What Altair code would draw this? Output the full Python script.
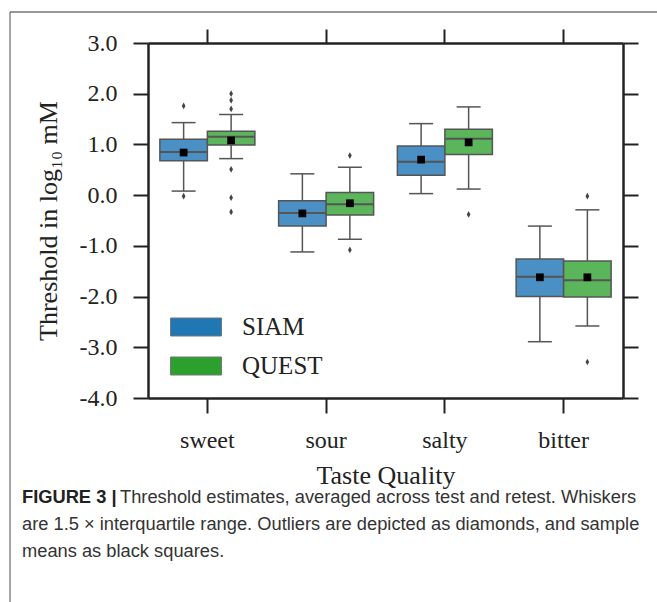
import altair as alt
import pandas as pd

tastes = ["sweet", "sour", "salty", "bitter"]
methods = ["SIAM", "QUEST"]

# box summaries (log10 mM)
siam_lo = [0.08, -1.12, 0.03, -2.89]
siam_q1 = [0.68, -0.61, 0.39, -2.00]
siam_med = [0.85, -0.35, 0.66, -1.61]
siam_q3 = [1.10, -0.11, 0.97, -1.26]
siam_hi = [1.43, 0.42, 1.41, -0.61]
siam_mean = [0.84, -0.36, 0.70, -1.62]

quest_lo = [0.72, -0.87, 0.12, -2.58]
quest_q1 = [0.99, -0.39, 0.80, -2.01]
quest_med = [1.15, -0.18, 1.11, -1.68]
quest_q3 = [1.26, 0.05, 1.30, -1.30]
quest_hi = [1.59, 0.55, 1.74, -0.29]
quest_mean = [1.08, -0.16, 1.04, -1.62]

out_method = ["SIAM", "SIAM", "QUEST", "QUEST", "QUEST", "QUEST", "QUEST", "QUEST",
              "QUEST", "QUEST", "QUEST", "QUEST", "QUEST"]
out_taste = ["sweet", "sweet", "sweet", "sweet", "sweet", "sweet", "sweet", "sweet",
             "sour", "sour", "salty", "bitter", "bitter"]
out_value = [1.76, -0.02, 2.00, 1.87, 1.70, 0.51, -0.05, -0.33,
             0.78, -1.08, -0.38, -0.02, -3.29]

y_ticks = [-4, -3, -2, -1, 0, 1, 2, 3]
box_colors = {"SIAM": "#4a90c5", "QUEST": "#5bb55b"}
legend_colors = {"SIAM": "#1f77b4", "QUEST": "#2ca02c"}

caption_bold = "FIGURE 3 |"
caption_lines = [
    "Threshold estimates, averaged across test and retest. Whiskers",
    "are 1.5 \u00d7 interquartile range. Outliers are depicted as diamonds, and sample",
    "means as black squares.",
]

rows = []
for i, t in enumerate(tastes):
    rows.append(dict(taste=t, method="SIAM", lo=siam_lo[i], q1=siam_q1[i], med=siam_med[i],
                     q3=siam_q3[i], hi=siam_hi[i], mean=siam_mean[i]))
    rows.append(dict(taste=t, method="QUEST", lo=quest_lo[i], q1=quest_q1[i], med=quest_med[i],
                     q3=quest_q3[i], hi=quest_hi[i], mean=quest_mean[i]))
summary = pd.DataFrame(rows)
outliers = pd.DataFrame(dict(taste=out_taste, method=out_method, value=out_value))

SERIF = "Liberation Serif"
SANS = "Liberation Sans, Arial"
DARK = "#222222"
GRAY = "#555555"

xscale = alt.Scale(type="band", domain=tastes, paddingInner=0, paddingOuter=0)
oscale = alt.Scale(domain=methods, paddingInner=0, paddingOuter=0.25)
yscale = alt.Scale(domain=[-4, 3], nice=False, zero=False)
label_expr = "(datum.value < 0 ? '-' : '') + format(abs(datum.value), '.1f')"

x_main = alt.X("taste:N", sort=tastes, scale=xscale,
               axis=alt.Axis(orient="bottom", labelAngle=0, tickSize=15, labelPadding=15,
                             title="Taste Quality", titlePadding=10, titleFontSize=26))
x_none = alt.X("taste:N", sort=tastes, scale=xscale, axis=None)
x_top = alt.X("taste:N", sort=tastes, scale=xscale,
              axis=alt.Axis(orient="top", labels=False, tickSize=14, title=None))
xo = alt.XOffset("method:N", sort=methods, scale=oscale)


def ynone(field):
    return alt.Y(field, scale=yscale, axis=None)


base_s = alt.Chart(summary)

whisk = base_s.mark_rule(color=GRAY, strokeWidth=1.5).encode(
    x=x_main, xOffset=xo,
    y=alt.Y("lo:Q", scale=yscale,
            axis=alt.Axis(orient="left", values=y_ticks, labelExpr=label_expr, tickSize=15,
                          labelPadding=16, title="Threshold in log\u2081\u2080 mM",
                          titlePadding=18, titleFontSize=26)),
    y2="hi:Q",
)

# fill domain listed in reverse order so Vega-Lite keeps it apart from the colour legend
fill_domain = methods[::-1]
boxes = base_s.mark_bar(stroke=GRAY, strokeWidth=1.5).encode(
    x=x_none, xOffset=xo, y=ynone("q1:Q"), y2="q3:Q",
    fill=alt.Fill("method:N",
                  scale=alt.Scale(domain=fill_domain, range=[box_colors[m] for m in fill_domain]),
                  legend=None),
)

median = base_s.mark_tick(color=GRAY, thickness=2, size=47, opacity=1).encode(
    x=x_none, xOffset=xo, y=ynone("med:Q"))
cap_lo = base_s.mark_tick(color=GRAY, thickness=1.5, size=24, opacity=1).encode(
    x=x_none, xOffset=xo, y=ynone("lo:Q"))
cap_hi = base_s.mark_tick(color=GRAY, thickness=1.5, size=24, opacity=1).encode(
    x=x_none, xOffset=xo, y=ynone("hi:Q"))

outl = alt.Chart(outliers).mark_point(
    shape="M0,-1L0.55,0L0,1L-0.55,0Z", filled=True, size=45, color="#444444", opacity=1
).encode(x=x_none, xOffset=xo, y=ynone("value:Q"))

# legend carrier: small squares hidden beneath the black mean squares
legend_layer = base_s.mark_square(size=30, opacity=1).encode(
    x=x_none, xOffset=xo, y=ynone("mean:Q"),
    color=alt.Color("method:N", sort=methods,
                    scale=alt.Scale(domain=methods, range=[legend_colors[m] for m in methods]),
                    legend=alt.Legend(title=None, orient="none", legendX=22, legendY=258,
                                      symbolType="M-1,-0.353L1,-0.353L1,0.353L-1,0.353Z",
                                      symbolSize=2601, symbolOpacity=1,
                                      symbolStrokeColor="#777777", symbolStrokeWidth=1,
                                      labelFont=SERIF, labelFontSize=25, labelColor=DARK,
                                      labelOffset=20, rowPadding=-5, padding=0)),
)

means = base_s.mark_square(color="black", size=60, opacity=1).encode(
    x=x_top, xOffset=xo,
    y=alt.Y("mean:Q", scale=yscale,
            axis=alt.Axis(orient="right", values=y_ticks, labels=False, tickSize=15, title=None)),
)

frame_data = alt.Data(values=[{"k": 1}])
frame_left = alt.Chart(frame_data).mark_rule(color="#888888", strokeWidth=1.5).encode(
    x=alt.value(-138), y=alt.value(-31), y2=alt.value(559))
frame_top = alt.Chart(frame_data).mark_rule(color="#333333", strokeWidth=1.2).encode(
    x=alt.value(-138), x2=alt.value(509), y=alt.value(-31))

cap_font = 18.3
cap_bold = alt.Chart(frame_data).mark_text(
    text=caption_bold, font=SANS, fontSize=cap_font, fontWeight="bold", color="#222222",
    align="left", baseline="middle").encode(x=alt.value(-126), y=alt.value(455))
cap1 = alt.Chart(frame_data).mark_text(
    text=caption_lines[0], font=SANS, fontSize=cap_font, color="#333333",
    align="left", baseline="middle").encode(x=alt.value(-28), y=alt.value(455))
cap2 = alt.Chart(frame_data).mark_text(
    text=caption_lines[1], font=SANS, fontSize=cap_font, color="#333333",
    align="left", baseline="middle").encode(x=alt.value(-126), y=alt.value(482))
cap3 = alt.Chart(frame_data).mark_text(
    text=caption_lines[2], font=SANS, fontSize=cap_font, color="#333333",
    align="left", baseline="middle").encode(x=alt.value(-126), y=alt.value(509))

chart = alt.layer(
    whisk, boxes, median, cap_lo, cap_hi, outl, legend_layer, means,
    frame_left, frame_top, cap_bold, cap1, cap2, cap3,
).resolve_axis(x="independent", y="independent").properties(
    width=475, height=355,
    autosize=alt.AutoSizeParams(type="none"),
    padding={"left": 148, "top": 43, "right": 34, "bottom": 204},
    background="white",
).configure_view(stroke=None).configure_axis(
    grid=False, domainColor=DARK, domainWidth=2.5, tickColor=DARK, tickWidth=2,
    labelFont=SERIF, labelFontSize=24, labelColor=DARK,
    titleFont=SERIF, titleFontWeight="normal", titleColor=DARK,
)

chart.save("out.html", embed_options={"renderer": "svg", "actions": False})
